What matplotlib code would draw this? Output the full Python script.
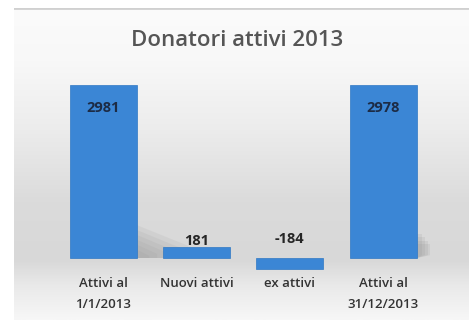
import numpy as np
import matplotlib
matplotlib.use("Agg")
import matplotlib.pyplot as plt
from matplotlib.colors import LinearSegmentedColormap
from matplotlib.patches import Polygon

categories = ["Attivi al\n1/1/2013", "Nuovi attivi", "ex attivi", "Attivi al\n31/12/2013"]
values = [2981, 181, -184, 2978]
value_labels = ["2981", "181", "-184", "2978"]
title = "Donatori attivi 2013"

W, H = 469, 320
fig = plt.figure(figsize=(W / 100, H / 100), dpi=100)
fig.patch.set_facecolor("white")

# background panel with vertical gradient
bg = fig.add_axes([14 / W, 0, 1 - 14 / W, (H - 8) / H], zorder=0)
stops = [(0.0, "#fbfbfb"), (0.17, "#f8f8f8"), (0.39, "#ececec"),
         (0.62, "#dbdbdb"), (0.81, "#d8d8d8"), (0.89, "#e9e9e9"), (1.0, "#f7f7f7")]
cmap = LinearSegmentedColormap.from_list("bg", stops)
grad = np.linspace(0, 1, 256).reshape(-1, 1)
bg.imshow(grad, aspect="auto", cmap=cmap, extent=[0, 1, 0, 1], origin="upper")
bg.axhline(1.0, color="#d0d0d0", lw=2.0)
bg.set_xlim(0, 1)
bg.set_ylim(0, 1)
bg.axis("off")

fig.text(237 / W, 1 - 40 / H, title, ha="center", va="center",
         fontsize=16, color="#555555", family="Open Sans", fontweight="semibold")

ax = fig.add_axes([56.8 / W, 47.5 / H, 373 / W, 194.4 / H], zorder=1)
ax.patch.set_alpha(0)
x = np.arange(len(values))
width = 0.72

# soft decorative shadows behind the two tall bars
for xi, v in zip(x, values):
    if v > 1000:
        xr = xi + width / 2
        if xi == 0:
            for k in range(6):
                f = 1 - k / 6
                poly = Polygon([(xr, 0), (xr, v * 0.17 * f + v * 0.02),
                                (xr + 0.5 * f + 0.05, v * 0.07 * f), (xr + 0.5 * f + 0.05, 0)],
                               closed=True, facecolor="#8a8a8a", edgecolor="none",
                               alpha=0.1, zorder=1)
                ax.add_patch(poly)
        else:
            for k in range(4):
                poly = Polygon([(xr, 0), (xr, v * (0.14 - 0.02 * k)),
                                (xr + 0.06 + 0.03 * k, v * (0.14 - 0.02 * k)),
                                (xr + 0.06 + 0.03 * k, v * 0.015)],
                               closed=True, facecolor="#8c8c8c", edgecolor="none",
                               alpha=0.14, zorder=1)
                ax.add_patch(poly)

ax.bar(x, values, width=width, color="#3b86d5", edgecolor="#2f78c4", linewidth=0.5, zorder=2)
ax.set_xlim(-0.5, len(values) - 0.5)
ax.set_ylim(-250, 3100)

for xi, v, lab in zip(x, values, value_labels):
    if v > 1000:
        ax.annotate(lab, (xi, v), xytext=(0, -16.5), textcoords="offset points",
                    ha="center", va="center", fontsize=10.5, fontweight="bold",
                    color="#1c2b45", family="Open Sans", zorder=3)
    elif v >= 0:
        ax.annotate(lab, (xi, v), xytext=(0, 5), textcoords="offset points",
                    ha="center", va="center", fontsize=10.5, fontweight="bold",
                    color="#262626", family="Open Sans", zorder=3)
    else:
        ax.annotate(lab, (xi, 0), xytext=(0, 13.5), textcoords="offset points",
                    ha="center", va="center", fontsize=10.5, fontweight="bold",
                    color="#262626", family="Open Sans", zorder=3)

ax.set_xticks(x)
ax.set_xticklabels(categories, fontsize=9.5, color="#333333", family="Open Sans",
                   fontweight="semibold", linespacing=1.85)
ax.tick_params(axis="x", length=0, pad=3)
ax.set_yticks([])
for s in ax.spines.values():
    s.set_visible(False)

fig.savefig("out.png", dpi=100)
